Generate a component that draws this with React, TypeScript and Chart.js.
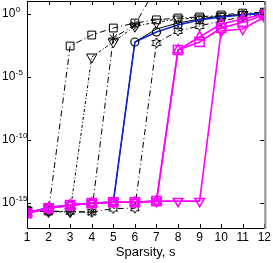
import { useEffect, useRef } from "react";
import { Chart, registerables } from "chart.js";

Chart.register(...registerables);

// ---- data ----
const sparsity = [1, 2, 3, 4, 5, 6, 7, 8, 9, 10, 11, 12];
const yTickValues = [1e0, 1e-5, 1e-10, 1e-15];
const yTickBase = "10";
const yTickExponents = ["0", "-5", "-10", "-15"];
const xAxisTitle = "Sparsity, s";

const magentaSquare = [1.5e-16, 3.7e-16, 6.5e-16, 9.3e-16, 1.1e-15, 1.1e-15, 1.35e-15, 1.3e-3, 5.6e-3, 7.2e-2, 0.21, 0.78];
const magentaTriUp = [1.5e-16, 3.7e-16, 6.5e-16, 9.3e-16, 1.1e-15, 1.1e-15, 1.35e-15, 1.3e-3, 1.4e-2, 0.15, 0.37, 0.93];
const magentaTriDown = [1.5e-16, 3.7e-16, 6.5e-16, 9.3e-16, 1.1e-15, 1.1e-15, 1.35e-15, 1.35e-15, 1.35e-15, 4.2e-2, 6.0e-2, 0.54];
const blueCircle = [1.6e-16, 4.2e-16, 6.8e-16, 9.5e-16, 1.15e-15, 5.6e-3, 3.5e-2, 0.126, 0.31, 0.54, 0.78, 1.1];
const blackSolid = [1.6e-16, 4.0e-16, 6.5e-16, 9.0e-16, 1.1e-15, 5.6e-3, 6.0e-2, 0.18, 0.37, 0.65, 0.85, 1.1];
const blackSquare = [2.6e-16, 2.2e-16, 2.7e-3, 2.0e-2, 7.2e-2, 0.18, 0.32, 0.45, 0.54, 0.78, 1.1, 1.3];
const blackTriDown = [2.4e-16, 2.0e-16, 1.9e-16, 3.6e-4, 5.6e-3, 0.1, 0.21, 0.37, 0.45, 0.65, 0.85, 1.0];
const blackAsterisk = [2.5e-16, 2.1e-16, 2.0e-16, 1.8e-16, 1.15e-2, 0.13, 125, 200, 200, 200, 200, 200];
const blackHexagram = [2.6e-16, 2.2e-16, 2.0e-16, 1.8e-16, 3.5e-16, 3.7e-16, 4.7e-3, 4.2e-2, 0.105, 0.26, 0.54, 0.93];

const FONT = "'Liberation Sans', Arial, sans-serif";

function hexagram(color: string, r: number, lw: number) {
  const c = document.createElement("canvas");
  const s = Math.ceil(2 * r + lw * 2 + 2);
  c.width = s;
  c.height = s;
  const g = c.getContext("2d")!;
  g.strokeStyle = color;
  g.lineWidth = lw;
  g.beginPath();
  for (let i = 0; i < 12; i++) {
    const ang = -Math.PI / 2 + (i * Math.PI) / 6;
    const rad = i % 2 === 0 ? r : r * 0.577;
    const px = s / 2 + Math.cos(ang) * rad;
    const py = s / 2 + Math.sin(ang) * rad;
    if (i === 0) g.moveTo(px, py);
    else g.lineTo(px, py);
  }
  g.closePath();
  g.stroke();
  return c;
}

const pts = (arr: number[]) => arr.map((v, i) => ({ x: sparsity[i], y: v }));

const framePlugin = {
  id: "frame",
  afterDatasetsDraw(chart: any) {
    const { ctx, chartArea: a, scales } = chart;
    ctx.save();
    ctx.strokeStyle = "#000";
    ctx.lineWidth = 1;
    ctx.beginPath();
    for (const v of sparsity) {
      const x = Math.round(scales.x.getPixelForValue(v)) + 0.5;
      ctx.moveTo(x, a.bottom);
      ctx.lineTo(x, a.bottom - 4);
      ctx.moveTo(x, a.top);
      ctx.lineTo(x, a.top + 4);
    }
    for (const v of yTickValues) {
      const y = Math.round(scales.y.getPixelForValue(v)) + 0.5;
      ctx.moveTo(a.left, y);
      ctx.lineTo(a.left + 4, y);
      ctx.moveTo(a.right, y);
      ctx.lineTo(a.right - 4, y);
    }
    ctx.stroke();
    ctx.beginPath();
    ctx.moveTo(a.left + 0.5, a.top);
    ctx.lineTo(a.left + 0.5, a.bottom + 0.5);
    ctx.lineTo(a.right, a.bottom + 0.5);
    ctx.moveTo(a.left, a.top + 0.5);
    ctx.lineTo(a.right, a.top + 0.5);
    ctx.stroke();
    ctx.strokeStyle = "#909090";
    ctx.lineWidth = 2;
    ctx.beginPath();
    ctx.moveTo(a.right + 1, a.top);
    ctx.lineTo(a.right + 1, a.bottom + 1);
    ctx.stroke();

    // y tick labels: "10" with raised exponent
    ctx.fillStyle = "#000";
    ctx.textBaseline = "middle";
    ctx.textAlign = "left";
    yTickValues.forEach((v, i) => {
      const y = scales.y.getPixelForValue(v);
      ctx.font = `12px ${FONT}`;
      ctx.fillText(yTickBase, 2, y);
      const w = ctx.measureText(yTickBase).width;
      ctx.font = `8px ${FONT}`;
      ctx.fillText(yTickExponents[i], 2 + w + 0.5, y - 4);
    });
    ctx.restore();
  },
};

export default function App() {
  const ref = useRef<HTMLCanvasElement | null>(null);

  useEffect(() => {
    document.body.style.margin = "0";
    const canvas = ref.current!;
    const dashDot = [6, 3, 1, 3];
    const dotted = [3, 2, 1, 2];
    const magenta = "#ff00ff";
    const blue = "#0a22dd";
    const black = "#000000";
    const hexBlack = hexagram(black, 5, 1);

    const chart = new Chart(canvas, {
      type: "line",
      data: {
        datasets: [
          { data: pts(magentaSquare), borderColor: magenta, borderWidth: 1.6, pointStyle: "rect", pointRadius: 6.5, pointBorderWidth: 1.5, pointBorderColor: magenta, pointBackgroundColor: "transparent" },
          { data: pts(magentaTriUp), borderColor: magenta, borderWidth: 1.6, pointStyle: "triangle", pointRadius: 5.5, pointBorderWidth: 1.5, pointBorderColor: magenta, pointBackgroundColor: "transparent" },
          { data: pts(magentaTriDown), borderColor: magenta, borderWidth: 1.6, pointStyle: "triangle", pointRotation: 180, pointRadius: 5.5, pointBorderWidth: 1.5, pointBorderColor: magenta, pointBackgroundColor: "transparent" },
          { data: pts(blueCircle), borderColor: blue, borderWidth: 1.6, pointStyle: "circle", pointRadius: 4, pointBorderWidth: 1.2, pointBorderColor: black, pointBackgroundColor: "transparent" },
          { data: pts(blackSolid), borderColor: black, borderWidth: 1, pointRadius: 0 },
          { data: pts(blackSquare), borderColor: black, borderWidth: 1, borderDash: dashDot, pointStyle: "rect", pointRadius: 5.5, pointBorderWidth: 1, pointBorderColor: black, pointBackgroundColor: "transparent" },
          { data: pts(blackTriDown), borderColor: black, borderWidth: 1, borderDash: dotted, pointStyle: "triangle", pointRotation: 180, pointRadius: 6, pointBorderWidth: 1, pointBorderColor: black, pointBackgroundColor: "transparent" },
          { data: pts(blackAsterisk), borderColor: black, borderWidth: 1, borderDash: dashDot, pointStyle: "star", pointRadius: 5, pointBorderWidth: 1, pointBorderColor: black, pointBackgroundColor: "transparent" },
          { data: pts(blackHexagram), borderColor: black, borderWidth: 1, borderDash: dashDot, pointStyle: hexBlack as any, pointRadius: 5 },
        ],
      },
      options: {
        animation: false,
        responsive: false,
        devicePixelRatio: 1,
        events: [],
        layout: { autoPadding: false, padding: { left: 2, top: 1, right: 7, bottom: 0 } },
        plugins: { legend: { display: false }, tooltip: { enabled: false }, title: { display: false } },
        elements: { line: { tension: 0 } },
        scales: {
          x: {
            type: "linear",
            min: 1,
            max: 12,
            grid: { display: false, drawTicks: false, tickLength: 0 },
            border: { display: false },
            afterBuildTicks: (s: any) => {
              s.ticks = sparsity.map((v) => ({ value: v }));
            },
            afterFit: (s: any) => {
              s.height = 35;
            },
            ticks: {
              padding: 2,
              color: "#000",
              font: { family: FONT, size: 12 },
              maxRotation: 0,
              autoSkip: false,
              callback: (v: any) => String(v),
            },
            title: {
              display: true,
              text: xAxisTitle,
              color: "#000",
              font: { family: FONT, size: 13 },
              padding: { top: 0, bottom: 3 },
            },
          },
          y: {
            type: "logarithmic",
            min: 1e-17,
            max: 1e1,
            grid: { display: false, drawTicks: false, tickLength: 0 },
            border: { display: false },
            afterBuildTicks: (s: any) => {
              s.ticks = yTickValues.map((v) => ({ value: v }));
            },
            afterFit: (s: any) => {
              s.width = 25;
            },
            ticks: { display: false },
          },
        },
      },
      plugins: [framePlugin],
    } as any);

    return () => chart.destroy();
  }, []);

  return (
    <div style={{ width: 273, height: 263 }}>
      <canvas ref={ref} width={273} height={263} style={{ display: "block" }} />
    </div>
  );
}
